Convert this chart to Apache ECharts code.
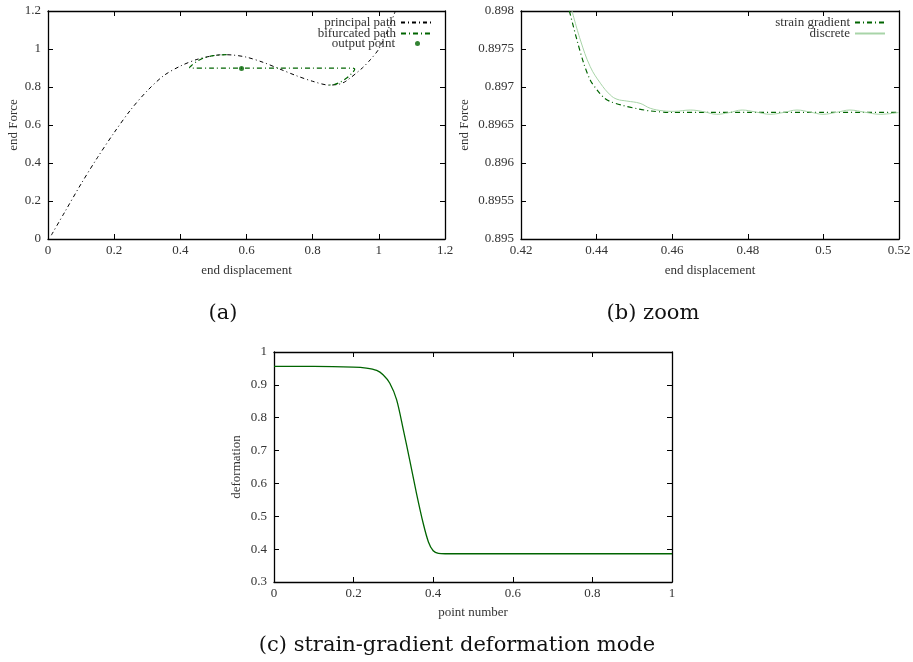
<!DOCTYPE html>
<html>
<head>
<meta charset="utf-8">
<style>
  html, body { margin: 0; padding: 0; background: #fff; }
  #main { width: 913px; height: 662px; }
</style>
<script src="https://cdn.jsdelivr.net/npm/echarts@6/dist/echarts.min.js"></script>
</head>
<body>
<div id="main"></div>
<script>
// (a) load path
const principalX = [0.01, 0.05, 0.1, 0.15, 0.2, 0.25, 0.3, 0.35, 0.4, 0.45, 0.5, 0.53, 0.56, 0.6, 0.65, 0.7, 0.75, 0.8, 0.85, 0.88, 0.9, 0.95, 0.975, 1.0, 1.025, 1.05];
const principalY = [0.02, 0.14, 0.29, 0.43, 0.56, 0.68, 0.78, 0.86, 0.91, 0.945, 0.965, 0.97, 0.968, 0.957, 0.93, 0.895, 0.86, 0.83, 0.81, 0.815, 0.83, 0.9, 0.945, 1.0, 1.09, 1.2];
const bifurcX = [0.54, 0.5, 0.47, 0.45, 0.435, 0.428, 0.433, 0.5, 0.6, 0.7, 0.8, 0.9, 0.922, 0.927, 0.92, 0.905, 0.885, 0.865, 0.845];
const bifurcY = [0.97, 0.965, 0.952, 0.935, 0.915, 0.902, 0.899, 0.899, 0.899, 0.899, 0.899, 0.899, 0.899, 0.893, 0.875, 0.85, 0.827, 0.813, 0.81];
const outputPoint = [0.585, 0.897];

// (b) zoom
const gradientX = [0.4328, 0.4348, 0.4366, 0.4383, 0.4401, 0.4419, 0.4436, 0.4471, 0.4507, 0.4542, 0.4595, 0.47, 0.48, 0.49, 0.5, 0.51, 0.52];
const gradientY = [0.8980, 0.897619, 0.897312, 0.897093, 0.896962, 0.896861, 0.896809, 0.896755, 0.896715, 0.896685, 0.896667, 0.896667, 0.896667, 0.896667, 0.896667, 0.896667, 0.896667];
const discreteX = [0.4335, 0.4357, 0.4383, 0.441, 0.4436, 0.4454, 0.448, 0.4515, 0.4542, 0.4577, 0.4605, 0.4648, 0.4683, 0.4718, 0.475, 0.4785, 0.482, 0.4859, 0.4895, 0.493, 0.4965, 0.4999, 0.5035, 0.507, 0.511, 0.515, 0.52];
const discreteY = [0.8980, 0.897619, 0.897269, 0.897050, 0.896896, 0.896839, 0.896815, 0.896785, 0.896720, 0.896686, 0.896680, 0.896697, 0.896675, 0.896641, 0.896662, 0.896697, 0.896672, 0.896641, 0.896665, 0.896697, 0.896670, 0.896641, 0.896667, 0.896697, 0.896668, 0.896641, 0.896665];

// (c) deformation mode
const modeX = [0, 0.1, 0.199, 0.232, 0.258, 0.274, 0.291, 0.308, 0.325, 0.341, 0.358, 0.375, 0.388, 0.4, 0.413, 0.43, 0.5, 0.7, 1.0];
const modeY = [0.956, 0.956, 0.954, 0.951, 0.944, 0.931, 0.905, 0.855, 0.763, 0.671, 0.57, 0.478, 0.422, 0.395, 0.387, 0.386, 0.386, 0.386, 0.386];

const captions = ['(a)', '(b) zoom', '(c) strain-gradient deformation mode'];

const zip = (xs, ys) => xs.map((x, i) => [x, ys[i]]);

const FONT = 'Liberation Serif';
const CAPTION_FONT = 'DejaVu Serif';
const DARK_GREEN = '#006400';
const LIGHT_GREEN = '#a8d4a8';

function xAxes(grid, min, max, interval, name, nameGap) {
  const base = {
    gridIndex: grid, type: 'value', min: min, max: max, interval: interval,
    splitLine: { show: false },
    axisLine: { show: true, onZero: false, lineStyle: { color: '#000', width: 1.3 } },
    axisTick: { show: true, inside: true, length: 5, lineStyle: { color: '#000' } }
  };
  return [
    Object.assign({}, base, {
      position: 'bottom', name: name, nameLocation: 'middle', nameGap: nameGap,
      nameTextStyle: { fontFamily: FONT, fontSize: 13, color: '#333' },
      axisLabel: { fontFamily: FONT, fontSize: 13, color: '#333', margin: 5 }
    }),
    Object.assign({}, base, { position: 'top', axisLabel: { show: false } })
  ];
}

function yAxes(grid, min, max, interval, name, nameGap) {
  const base = {
    gridIndex: grid, type: 'value', min: min, max: max, interval: interval,
    splitLine: { show: false },
    axisLine: { show: true, onZero: false, lineStyle: { color: '#000', width: 1.3 } },
    axisTick: { show: true, inside: true, length: 5, lineStyle: { color: '#000' } }
  };
  return [
    Object.assign({}, base, {
      position: 'left', name: name, nameLocation: 'middle', nameGap: nameGap, nameRotate: 90,
      nameTextStyle: { fontFamily: FONT, fontSize: 13, color: '#333' },
      axisLabel: { fontFamily: FONT, fontSize: 13, color: '#333', margin: 7 }
    }),
    Object.assign({}, base, { position: 'right', axisLabel: { show: false } })
  ];
}

// one legend per entry so every row is right-aligned like gnuplot's key
function legendItem(name, right, top, extra) {
  return Object.assign({
    data: [name], orient: 'vertical', align: 'right', right: right, top: top,
    padding: 0, itemWidth: 30, itemHeight: 12, selectedMode: false,
    itemStyle: { opacity: 0 },
    textStyle: { fontFamily: FONT, fontSize: 13, color: '#333' }
  }, extra || {});
}

function caption(text, x, y) {
  return {
    text: text, left: x, top: y, textAlign: 'center',
    textStyle: { fontFamily: CAPTION_FONT, fontSize: 21, fontWeight: 'normal', color: '#111' }
  };
}

const chart = echarts.init(document.getElementById('main'));

const option = {
  backgroundColor: '#fff',
  animation: false,
  title: [
    caption(captions[0], 218, 298),
    caption(captions[1], 648, 298),
    caption(captions[2], 452, 630)
  ],
  grid: [
    { left: 48, top: 11, width: 397, height: 228, outerBoundsMode: 'none' },
    { left: 521, top: 11, width: 378, height: 228, outerBoundsMode: 'none' },
    { left: 274, top: 352, width: 398, height: 230, outerBoundsMode: 'none' }
  ],
  xAxis: [].concat(
    xAxes(0, 0, 1.2, 0.2, 'end displacement', 25),
    xAxes(1, 0.42, 0.52, 0.02, 'end displacement', 25),
    xAxes(2, 0, 1, 0.2, 'point number', 24)
  ),
  yAxis: [].concat(
    yAxes(0, 0, 1.2, 0.2, 'end Force', 28),
    yAxes(1, 0.895, 0.898, 0.0005, 'end Force', 50),
    yAxes(2, 0.3, 1, 0.1, 'deformation', 31)
  ),
  legend: [
    legendItem('principal path', 481, 16),
    legendItem('bifurcated path', 481, 27),
    legendItem('output point', 493, 37, {
      icon: 'circle', itemWidth: 5, itemHeight: 5, itemStyle: {},
      textStyle: { fontFamily: FONT, fontSize: 13, color: '#333', padding: [0, 15, 0, 0] }
    }),
    legendItem('strain gradient', 27, 16),
    legendItem('discrete', 27, 27)
  ],
  series: [
    {
      name: 'principal path', type: 'line', xAxisIndex: 0, yAxisIndex: 0,
      data: zip(principalX, principalY), smooth: 0.3, showSymbol: false, symbol: 'none',
      lineStyle: { color: '#000', width: 1, type: [4, 3, 1, 3] }, itemStyle: { color: '#000' }
    },
    {
      name: 'bifurcated path', type: 'line', xAxisIndex: 0, yAxisIndex: 0,
      data: zip(bifurcX, bifurcY), smooth: 0.3, showSymbol: false, symbol: 'none',
      lineStyle: { color: DARK_GREEN, width: 1.2, type: [5, 3, 1, 3] }, itemStyle: { color: DARK_GREEN }
    },
    {
      name: 'output point', type: 'scatter', xAxisIndex: 0, yAxisIndex: 0,
      data: [outputPoint], symbol: 'circle', symbolSize: 5, itemStyle: { color: DARK_GREEN }
    },
    {
      name: 'strain gradient', type: 'line', xAxisIndex: 2, yAxisIndex: 2,
      data: zip(gradientX, gradientY), smooth: 0.3, showSymbol: false, symbol: 'none',
      lineStyle: { color: DARK_GREEN, width: 1.2, type: [5, 3, 1, 3] }, itemStyle: { color: DARK_GREEN }
    },
    {
      name: 'discrete', type: 'line', xAxisIndex: 2, yAxisIndex: 2,
      data: zip(discreteX, discreteY), smooth: 0.4, showSymbol: false, symbol: 'none',
      lineStyle: { color: LIGHT_GREEN, width: 1 }, itemStyle: { color: LIGHT_GREEN }
    },
    {
      name: 'mode', type: 'line', xAxisIndex: 4, yAxisIndex: 4,
      data: zip(modeX, modeY), smooth: 0.3, showSymbol: false, symbol: 'none',
      lineStyle: { color: DARK_GREEN, width: 1.3 }, itemStyle: { color: DARK_GREEN }
    }
  ]
};

chart.setOption(option);
</script>
</body>
</html>
